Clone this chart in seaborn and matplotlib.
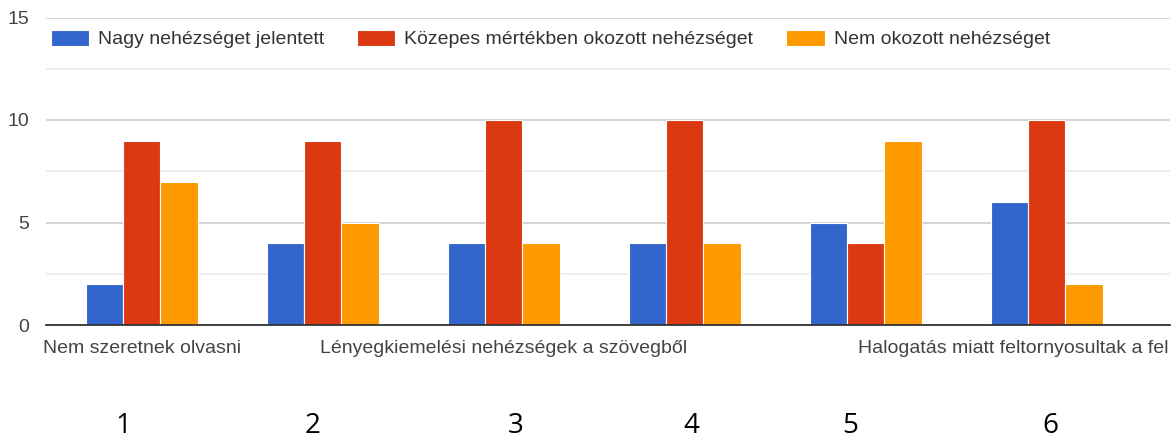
import matplotlib
matplotlib.use('Agg')
import matplotlib.pyplot as plt
import matplotlib.transforms as mtransforms
import pandas as pd
import seaborn as sns

# Chart values
groups = ['1', '2', '3', '4', '5', '6']
series = ['Nagy nehézséget jelentett',
          'Közepes mértékben okozott nehézséget',
          'Nem okozott nehézséget']
nagy = [2, 4, 4, 4, 5, 6]
kozepes = [9, 9, 10, 10, 4, 10]
nem = [7, 5, 4, 4, 9, 2]
colors = ['#3366cc', '#dc3912', '#ff9900']

shown_labels = ['Nem szeretnek olvasni',
                'Lényegkiemelési nehézségek a szövegből',
                'Halogatás miatt feltornyosultak a fel']
shown_label_pos = [0, 2, 4]

numbers = ['1', '2', '3', '4', '5', '6']
number_x_px = [123, 313, 516, 691, 850, 1050]

df = pd.DataFrame({
    'csoport': groups * 3,
    'valasz': [s for s in series for _ in groups],
    'db': nagy + kozepes + nem,
})

sns.set_style('white')
plt.rcParams['font.family'] = ['Liberation Sans', 'DejaVu Sans']

W, H = 1175, 442
fig = plt.figure(figsize=(W / 100, H / 100), dpi=100)
ax = fig.add_axes([46 / W, 1 - 325 / H, (1170 - 46) / W, (325 - 17.5) / H])

sns.barplot(data=df, x='csoport', y='db', hue='valasz', palette=colors,
            width=0.615, edgecolor='white', linewidth=0.8, saturation=1, ax=ax)

ax.set_xlim(-0.53, 5.68)
ax.set_ylim(0, 15)
ax.set_yticks([0, 5, 10, 15])
ax.set_yticks([2.5, 7.5, 12.5], minor=True)
ax.grid(axis='y', which='major', color='#cccccc', lw=1.2)
ax.grid(axis='y', which='minor', color='#ebebeb', lw=1.2)
ax.set_axisbelow(True)
for s in ['top', 'right', 'left']:
    ax.spines[s].set_visible(False)
ax.spines['bottom'].set_color('#333333')
ax.spines['bottom'].set_linewidth(1.3)

ax.set_xlabel('')
ax.set_ylabel('')
ax.tick_params(axis='y', which='both', length=0, pad=12, labelsize=14, labelcolor='#444444')
ax.set_xticks(shown_label_pos, shown_labels)
ax.tick_params(axis='x', length=0, pad=11, labelsize=14, labelcolor='#444444')
last = ax.get_xticklabels()[2]
last.set_ha('left')
last.set_transform(last.get_transform() + mtransforms.ScaledTranslation(-7.5 / 100, 0, fig.dpi_scale_trans))

handles, labels = ax.get_legend_handles_labels()
ax.legend(handles, labels, loc='center left', bbox_to_anchor=(51 / W, 1 - 39 / H),
          bbox_transform=fig.transFigure, ncol=3, frameon=False, fontsize=14,
          handlelength=1.96, handleheight=0.93, handletextpad=0.46,
          columnspacing=1.7, borderpad=0, borderaxespad=0, labelcolor='#333333')

for t, xp in zip(numbers, number_x_px):
    fig.text(xp / W, 1 - 426 / H, t, ha='center', va='center', fontsize=20,
             family='Open Sans', color='black')

fig.savefig('out.png', dpi=100)
